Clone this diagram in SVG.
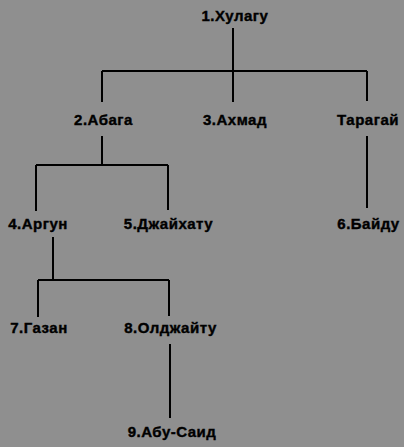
<svg xmlns="http://www.w3.org/2000/svg" width="404" height="447" viewBox="0 0 404 447">
<style>
.bg{fill:#8f8f8f}
text{font-family:"Liberation Sans",Arial,sans-serif;font-weight:bold;font-size:15px;letter-spacing:0.5px;fill:#000;stroke:#000;stroke-width:0.4;text-anchor:middle}
.c{stroke:#000;stroke-width:2;fill:none}
</style>
<rect class="bg" x="0" y="0" width="404" height="447"/>
<g id="connectors">
<path class="c" d="M233 28V102M102 71H367M102 71V102M367 71V101"/>
<path class="c" d="M102 136V165M36 165H168M36 165V211M168 165V210"/>
<path class="c" d="M367 136V208"/>
<path class="c" d="M53 237V280M38 280H169M38 280V317M169 280V316"/>
<path class="c" d="M170 344V418"/>
</g>
<g id="n1"><text x="235" y="21">1.Хулагу</text></g>
<g id="n2"><text x="103.5" y="125">2.Абага</text></g>
<g id="n3"><text x="235" y="125">3.Ахмад</text></g>
<g id="nT"><text x="368" y="125">Тарагай</text></g>
<g id="n4"><text x="38" y="229">4.Аргун</text></g>
<g id="n5"><text x="168.5" y="229">5.Джайхату</text></g>
<g id="n6"><text x="368.5" y="229">6.Байду</text></g>
<g id="n7"><text x="39" y="333">7.Газан</text></g>
<g id="n8"><text x="170.5" y="333">8.Олджайту</text></g>
<g id="n9"><text x="172" y="437">9.Абу-Саид</text></g>
</svg>
